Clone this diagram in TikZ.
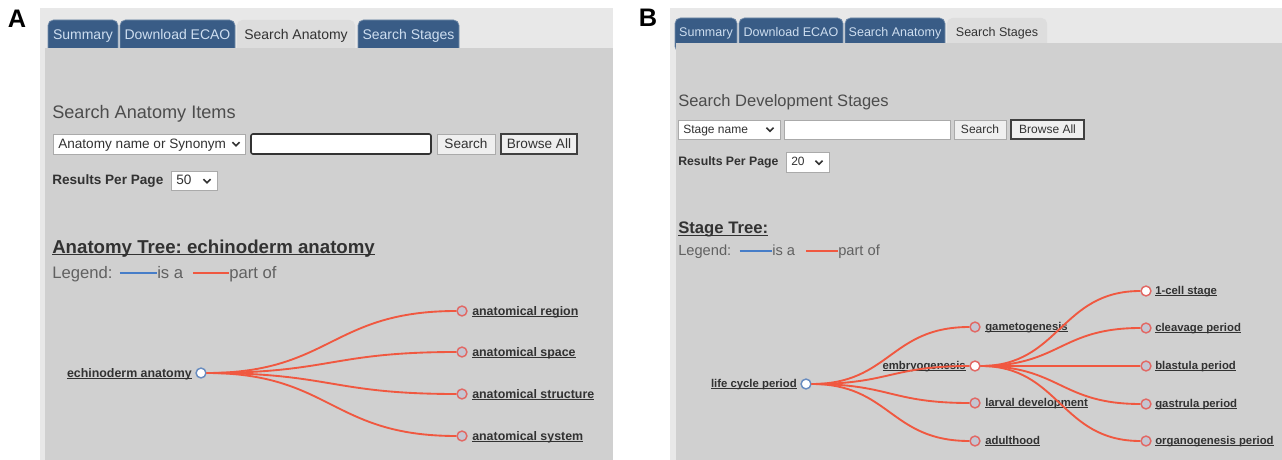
\documentclass[tikz,border=0pt]{standalone}
\usepackage{fontspec}
\setmainfont{Liberation Sans}
\usetikzlibrary{calc}
\frenchspacing
\definecolor{hdrgray}{RGB}{232,232,232}
\definecolor{bodygray}{RGB}{208,208,208}
\definecolor{tabblue}{RGB}{57,92,134}
\definecolor{tabtext}{RGB}{206,222,240}
\definecolor{acttab}{RGB}{221,221,221}
\definecolor{txtgray}{RGB}{50,50,50}
\definecolor{partred}{RGB}{240,88,64}
\definecolor{isablue}{RGB}{70,125,200}
\definecolor{leafred}{RGB}{226,104,100}
\definecolor{leaffill}{RGB}{196,198,210}
\definecolor{rootblue}{RGB}{104,140,192}
\definecolor{btnfill}{RGB}{239,239,239}
\definecolor{ctledge}{RGB}{170,170,170}
\newcommand{\ulnk}[1]{\setbox0\hbox{#1}\rlap{\rule[-0.13em]{\wd0}{0.07em}}\box0}
\newcommand{\selarrow}[2]{\draw[chev] (#1-3.5,#2-1.8) -- (#1,#2+1.8) -- (#1+3.5,#2-1.8);}
\tikzset{
  fsz/.style={font=\fontsize{#1}{#1}\selectfont},
  bfsz/.style={font=\fontsize{#1}{#1}\selectfont\bfseries},
  panlbl/.style={font=\fontsize{19}{19}\selectfont\bfseries, inner sep=0},
  tab/.style={fill=tabblue, draw=tabblue!70!white, line width=0.5pt, rounded corners=4pt},
  activetab/.style={fill=acttab, rounded corners=4pt},
  tabtxt/.style={fsz=#1, text=tabtext, inner sep=0, anchor=base},
  acttxt/.style={fsz=#1, text=txtgray, inner sep=0, anchor=base},
  txt/.style={fsz=#1, text=txtgray, inner sep=0, anchor=base west},
  btxt/.style={bfsz=#1, text=txtgray, inner sep=0, anchor=base west},
  leg/.style={fsz=#1, text=black!62, inner sep=0, anchor=base west},
  lnk/.style={bfsz=#1, text=txtgray, inner sep=0},
  ctl/.style={fill=white, draw=ctledge, line width=0.6pt},
  field/.style={fill=white, draw=black!80, line width=1.2pt, rounded corners=1.5pt},
  btn/.style={fill=btnfill, draw=ctledge, line width=0.6pt},
  btnon/.style={fill=btnfill, draw=black!75, line width=1.1pt},
  chev/.style={line width=1.2pt, draw=txtgray},
  isa/.style={draw=isablue, line width=1.5pt},
  partof/.style={draw=partred, line width=1.4pt},
  legpart/.style={draw=partred, line width=1.5pt},
  root/.style={circle, draw=rootblue, fill=white, line width=1.1pt, minimum size=7.4pt, inner sep=0},
  leaf/.style={circle, draw=leafred, fill=leaffill, line width=1.1pt, minimum size=7.4pt, inner sep=0},
  open/.style={leaf, fill=white},
}
\begin{document}
\begin{tikzpicture}[x=0.75pt, y=-0.75pt]
\useasboundingbox (0,0) rectangle (1282,460);

% panel A
\node[panlbl] (labA) at (17,19) {A};
\fill[hdrgray] (40,8) rectangle (613,460);
\foreach \a/\b/\lbl [count=\i] in {48/118/Summary, 120/235/Download ECAO, 358/459/Search Stages}{
  \draw[tab] (\a,58) rectangle (\b,20);
  \node[tabtxt=10.5] (tabA\i) at ({(\a+\b)/2},39.5) {\lbl};
}
\fill[activetab] (237,58) rectangle (355,20);
\node[acttxt=10.5] (tabA0) at (296,39.5) {Search Anatomy};
\fill[bodygray] (45,48) rectangle (613,460);

\node[txt=13.6, text=black!70] (hdA) at (52,118) {Search Anatomy Items};
\draw[ctl] (53,134) rectangle (245,154);
\node[txt=10.2] (selA) at (58,148.5) {Anatomy name or Synonym};
\selarrow{236}{144}
\draw[field] (251,134) rectangle (431,154);
\draw[btn] (437,134) rectangle (495,154);
\node[txt=10.2, anchor=base] (srchA) at (466,148.5) {Search};
\draw[btnon] (501,134) rectangle (577,154);
\node[txt=10.2, anchor=base] (browA) at (539,148.5) {Browse All};
\node[btxt=10.2] (rppA) at (52,184.5) {Results Per Page};
\draw[ctl] (171,171) rectangle (217,190);
\node[txt=10.2] (numA) at (176,184.5) {50};
\selarrow{207}{181}

\node[btxt=14] (treeA) at (52,253) {\ulnk{Anatomy Tree: echinoderm anatomy}};
\node[leg=12.5] (legA) at (52,278) {Legend:};
\node[leg=12.5] (isaA) at (157,278) {is a};
\node[leg=12.5] (partA) at (229,278) {part of};
\draw[isa] ($(legA.base east)+(7,-5)$) -- ($(isaA.base west)+(0,-5)$);
\draw[legpart] ($(isaA.base east)+(10,-5)$) -- ($(partA.base west)+(0,-5)$);

\coordinate (midA) at (331,0);
\node[root] (ecA) at (201,373) {};
\node[lnk=9.3, anchor=base east] (ecAl) at (192,377) {\ulnk{echinoderm anatomy}};
\foreach \y/\lbl [count=\i] in {311/anatomical region, 352/anatomical space, 394/anatomical structure, 436/anatomical system}{
  \node[leaf] (anA\i) at (462,\y) {};
  \node[lnk=9.3, anchor=base west] (anAl\i) at (472,\y+4) {\ulnk{\lbl}};
  \draw[partof] (ecA.east) .. controls (ecA.east -| midA) and (anA\i.west -| midA) .. (anA\i.west);
}

% panel B
\node[panlbl] (labB) at (648,18) {B};
\fill[hdrgray] (670,8) rectangle (1282,460);
\foreach \a/\b/\lbl [count=\i] in {675/737/Summary, 739/843/Download ECAO, 845/945/Search Anatomy}{
  \draw[tab] (\a,52) rectangle (\b,18);
  \node[tabtxt=9.4] (tabB\i) at ({(\a+\b)/2},36.5) {\lbl};
}
\fill[activetab] (947,52) rectangle (1047,18);
\node[acttxt=9.4] (tabB0) at (997,36.5) {Search Stages};
\fill[bodygray] (676,43) rectangle (1282,460);

\node[txt=12.4, text=black!70] (hdB) at (678,106.5) {Search Development Stages};
\draw[ctl] (678,120) rectangle (780,139);
\node[txt=9] (selB) at (683,133.5) {Stage name};
\selarrow{770}{129.5}
\draw[ctl] (784,120) rectangle (950,139);
\draw[btn] (954,120) rectangle (1006,139);
\node[txt=9, anchor=base] (srchB) at (980,133.5) {Search};
\draw[btnon] (1011,120) rectangle (1084,139);
\node[txt=9, anchor=base] (browB) at (1047.5,133.5) {Browse All};
\node[btxt=9.2] (rppB) at (678,166) {Results Per Page};
\draw[ctl] (786,152) rectangle (829,172);
\node[txt=9] (numB) at (791,166) {20};
\selarrow{819}{162.5}

\node[btxt=12.5] (treeB) at (678,233.5) {\ulnk{Stage Tree:}};
\node[leg=11] (legB) at (678,255) {Legend:};
\node[leg=11] (isaB) at (772,255) {is a};
\node[leg=11] (partB) at (838,255) {part of};
\draw[isa] ($(legB.base east)+(8,-4)$) -- ($(isaB.base west)+(0,-4)$);
\draw[legpart] ($(isaB.base east)+(11,-4)$) -- ($(partB.base west)+(0,-4)$);

\coordinate (midB1) at (890,0);
\coordinate (midB2) at (1060,0);
\node[root] (lcB) at (806,384) {};
\node[lnk=8.5, anchor=base east] (lcBl) at (797,387.7) {\ulnk{life cycle period}};
\node[open] (emB) at (975,366) {};
\node[lnk=8.5, anchor=base east] (emBl) at (966,369.7) {\ulnk{embryogenesis}};
\foreach \y/\lbl/\nm in {327/gametogenesis/gmB, 403/larval development/lvB, 441/adulthood/adB}{
  \node[leaf] (\nm) at (975,\y) {};
  \node[lnk=8.5, anchor=base west] (\nm l) at (985,\y+3.7) {\ulnk{\lbl}};
}
\foreach \nm in {gmB, emB, lvB, adB}
  \draw[partof] (lcB.east) .. controls (lcB.east -| midB1) and (\nm.west -| midB1) .. (\nm.west);
\foreach \y/\lbl/\sty [count=\i] in {291/1-cell stage/open, 328/cleavage period/leaf, 366/blastula period/leaf, 404/gastrula period/leaf, 441/organogenesis period/leaf}{
  \node[\sty] (stB\i) at (1146,\y) {};
  \node[lnk=8.5, anchor=base west] (stBl\i) at (1155,\y+3.7) {\ulnk{\lbl}};
  \draw[partof] (emB.east) .. controls (emB.east -| midB2) and (stB\i.west -| midB2) .. (stB\i.west);
}
\end{tikzpicture}
\end{document}
